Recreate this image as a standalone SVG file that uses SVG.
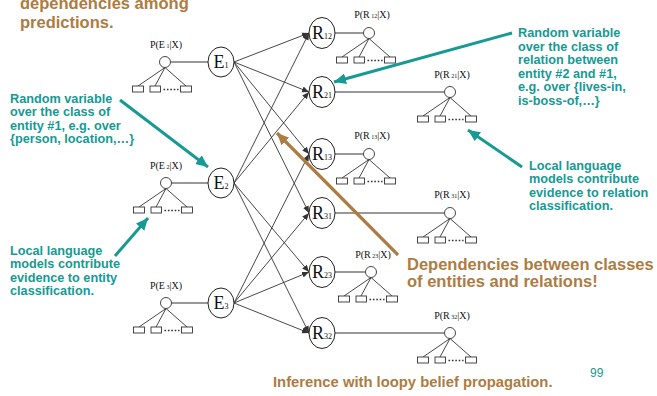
<svg xmlns="http://www.w3.org/2000/svg" width="657" height="396" viewBox="0 0 657 396">
  <style>
    .node { fill: #fff; stroke: #222; stroke-width: 1; }
    .lbl { font-family: "Liberation Serif", "Times New Roman", serif; fill: #111; }
    .big { font-size: 18px; }
    .sub { font-size: 8px; }
    .plbl { font-size: 10px; }
    .psub { font-size: 6px; }
    .edge { stroke: #333; stroke-width: 0.9; fill: none; }
    .link { stroke: #333; stroke-width: 1; fill: none; }
    .ev circle, .ev rect { fill: #fff; stroke: #333; stroke-width: 0.9; }
    .ev path { stroke: #333; stroke-width: 0.9; fill: none; }
    .ev .dots { stroke-dasharray: 1.6 1.8; stroke-width: 1.6; }
    .note { font-family: "Liberation Sans", Arial, sans-serif; font-weight: bold; font-size: 12.7px; fill: #169A93; }
    .head { font-family: "Liberation Sans", Arial, sans-serif; font-weight: bold; font-size: 16.5px; fill: #AD7C43; }
    .teal { stroke: #169A93; stroke-width: 3; fill: none; }
    .brown { stroke: #AD7C43; stroke-width: 3.2; fill: none; }
  </style>
  <defs>
    <marker id="tip" markerUnits="userSpaceOnUse" markerWidth="8" markerHeight="8" refX="7" refY="4" orient="auto">
      <path d="M0,1 L7,4 L0,7 Z" fill="#333"/>
    </marker>
    <marker id="tealTip" markerUnits="userSpaceOnUse" markerWidth="14" markerHeight="14" refX="12" refY="7" orient="auto">
      <path d="M0,1.5 L12,7 L0,12.5 Z" fill="#169A93"/>
    </marker>
    <marker id="brownTip" markerUnits="userSpaceOnUse" markerWidth="14" markerHeight="14" refX="12" refY="7" orient="auto">
      <path d="M0,1.5 L12,7 L0,12.5 Z" fill="#AD7C43"/>
    </marker>
    <!-- evidence tree: small variable with its observed features -->
    <g id="tree" class="ev">
      <path d="M0,5.5 L-27,24 M0,5.5 L-10,24 M0,5.5 L21,24"/>
      <circle cx="0" cy="0" r="5.5"/>
      <rect x="-32.5" y="24" width="11" height="6"/>
      <rect x="-15" y="24" width="10.5" height="6"/>
      <rect x="15.5" y="24" width="11" height="6"/>
      <path class="dots" d="M-1.5,27.5 L13.5,27.5"/>
    </g>
  </defs>

  <!-- title fragment -->
  <text class="head" x="20" y="9">dependencies among</text>
  <text class="head" x="20" y="28">predictions.</text>

  <g id="connectors">
    <!-- entity to relation edges -->
    <path class="edge" marker-end="url(#tip)" d="M234,62 L309,33"/>
    <path class="edge" marker-end="url(#tip)" d="M234,62 L309,92"/>
    <path class="edge" marker-end="url(#tip)" d="M234,62 L309,154"/>
    <path class="edge" marker-end="url(#tip)" d="M234,62 L309,213"/>
    <path class="edge" marker-end="url(#tip)" d="M234,183 L309,33"/>
    <path class="edge" marker-end="url(#tip)" d="M234,183 L309,92"/>
    <path class="edge" marker-end="url(#tip)" d="M234,183 L309,272"/>
    <path class="edge" marker-end="url(#tip)" d="M234,183 L309,333"/>
    <path class="edge" marker-end="url(#tip)" d="M234,303 L309,154"/>
    <path class="edge" marker-end="url(#tip)" d="M234,303 L309,213"/>
    <path class="edge" marker-end="url(#tip)" d="M234,303 L309,272"/>
    <path class="edge" marker-end="url(#tip)" d="M234,303 L309,333"/>
    <!-- node to evidence links -->
    <path class="link" d="M171,62 L208,62"/>
    <path class="link" d="M171,183 L208,183"/>
    <path class="link" d="M171,303 L208,303"/>
    <path class="link" d="M335,33 L363,33"/>
    <path class="link" d="M335,92 L444,92"/>
    <path class="link" d="M335,154 L363,154"/>
    <path class="link" d="M335,213 L444,213"/>
    <path class="link" d="M335,272 L365,272"/>
    <path class="link" d="M335,333 L444,333"/>
    <!-- annotation arrows -->
    <path class="teal" marker-end="url(#tealTip)" d="M120,100 L208,167"/>
    <path class="teal" marker-end="url(#tealTip)" d="M115,256 L148,218"/>
    <path class="teal" marker-end="url(#tealTip)" d="M512,33 L334,82"/>
    <path class="teal" marker-end="url(#tealTip)" d="M522,167 L468,130"/>
    <path class="brown" marker-end="url(#brownTip)" d="M398,255 L277,133"/>
  </g>

  <!-- evidence trees -->
  <g id="pE1"><use href="#tree" x="165" y="62"/><text class="lbl plbl" x="166" y="48" text-anchor="middle">P(E<tspan class="psub"> 1</tspan>|X)</text></g>
  <g id="pE2"><use href="#tree" x="166" y="183"/><text class="lbl plbl" x="166" y="169" text-anchor="middle">P(E<tspan class="psub"> 2</tspan>|X)</text></g>
  <g id="pE3"><use href="#tree" x="166" y="303"/><text class="lbl plbl" x="166" y="289" text-anchor="middle">P(E<tspan class="psub"> 3</tspan>|X)</text></g>
  <g id="pR12"><use href="#tree" x="369" y="33"/><text class="lbl plbl" x="372" y="18" text-anchor="middle">P(R<tspan class="psub"> 12</tspan>|X)</text></g>
  <g id="pR21"><use href="#tree" x="450" y="92"/><text class="lbl plbl" x="452" y="78" text-anchor="middle">P(R<tspan class="psub"> 21</tspan>|X)</text></g>
  <g id="pR13"><use href="#tree" x="369" y="154"/><text class="lbl plbl" x="372" y="139" text-anchor="middle">P(R<tspan class="psub"> 13</tspan>|X)</text></g>
  <g id="pR31"><use href="#tree" x="450" y="213"/><text class="lbl plbl" x="452" y="198" text-anchor="middle">P(R<tspan class="psub"> 31</tspan>|X)</text></g>
  <g id="pR23"><use href="#tree" x="371" y="272"/><text class="lbl plbl" x="373" y="258" text-anchor="middle">P(R<tspan class="psub"> 23</tspan>|X)</text></g>
  <g id="pR32"><use href="#tree" x="450" y="333"/><text class="lbl plbl" x="452" y="319" text-anchor="middle">P(R<tspan class="psub"> 32</tspan>|X)</text></g>

  <!-- entity nodes -->
  <g id="E1"><ellipse class="node" cx="221" cy="62" rx="13" ry="15"/><text class="lbl big" x="221" y="68" text-anchor="middle">E<tspan class="sub">1</tspan></text></g>
  <g id="E2"><ellipse class="node" cx="221" cy="183" rx="13" ry="15"/><text class="lbl big" x="221" y="189" text-anchor="middle">E<tspan class="sub">2</tspan></text></g>
  <g id="E3"><ellipse class="node" cx="221" cy="303" rx="13" ry="15"/><text class="lbl big" x="221" y="309" text-anchor="middle">E<tspan class="sub">3</tspan></text></g>

  <!-- relation nodes -->
  <g id="R12"><ellipse class="node" cx="322" cy="33" rx="13" ry="15.5"/><text class="lbl big" x="322" y="39" text-anchor="middle">R<tspan class="sub">12</tspan></text></g>
  <g id="R21"><ellipse class="node" cx="322" cy="92" rx="13" ry="15.5"/><text class="lbl big" x="322" y="98" text-anchor="middle">R<tspan class="sub">21</tspan></text></g>
  <g id="R13"><ellipse class="node" cx="322" cy="154" rx="13" ry="15.5"/><text class="lbl big" x="322" y="160" text-anchor="middle">R<tspan class="sub">13</tspan></text></g>
  <g id="R31"><ellipse class="node" cx="322" cy="213" rx="13" ry="15.5"/><text class="lbl big" x="322" y="219" text-anchor="middle">R<tspan class="sub">31</tspan></text></g>
  <g id="R23"><ellipse class="node" cx="322" cy="272" rx="13" ry="15.5"/><text class="lbl big" x="322" y="278" text-anchor="middle">R<tspan class="sub">23</tspan></text></g>
  <g id="R32"><ellipse class="node" cx="322" cy="333" rx="13" ry="15.5"/><text class="lbl big" x="322" y="339" text-anchor="middle">R<tspan class="sub">32</tspan></text></g>

  <!-- annotations -->
  <text class="note">
    <tspan x="10" y="103">Random variable</tspan>
    <tspan x="10" y="116.3">over the class of</tspan>
    <tspan x="10" y="129.6">entity #1, e.g. over</tspan>
    <tspan x="10" y="142.9">{person, location,…}</tspan>
  </text>
  <text class="note">
    <tspan x="10" y="255">Local language</tspan>
    <tspan x="10" y="268.4">models contribute</tspan>
    <tspan x="10" y="281.8">evidence to entity</tspan>
    <tspan x="10" y="295.2">classification.</tspan>
  </text>
  <text class="note">
    <tspan x="518" y="37">Random variable</tspan>
    <tspan x="518" y="50.6">over the class of</tspan>
    <tspan x="518" y="64.2">relation between</tspan>
    <tspan x="518" y="77.8">entity #2 and #1,</tspan>
    <tspan x="518" y="91.4">e.g. over {lives-in,</tspan>
    <tspan x="518" y="105">is-boss-of,…}</tspan>
  </text>
  <text class="note">
    <tspan x="529" y="170">Local language</tspan>
    <tspan x="529" y="183.3">models contribute</tspan>
    <tspan x="529" y="196.6">evidence to relation</tspan>
    <tspan x="529" y="209.9">classification.</tspan>
  </text>
  <text class="head">
    <tspan x="407" y="270">Dependencies between classes</tspan>
    <tspan x="407" y="287">of entities and relations!</tspan>
  </text>
  <text class="head" x="273" y="387" style="font-size:14.8px">Inference with loopy belief propagation.</text>
  <text x="590" y="377" style="font-family:'Liberation Sans',Arial,sans-serif;font-size:12px;fill:#169A93">99</text>
</svg>
